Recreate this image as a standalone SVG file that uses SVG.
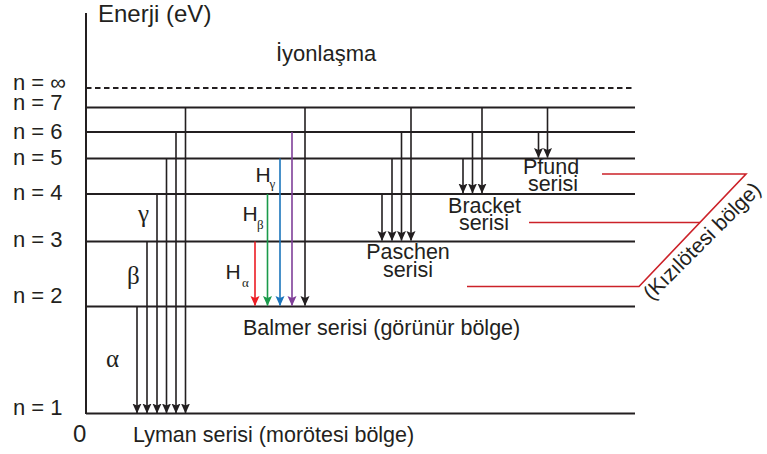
<svg xmlns="http://www.w3.org/2000/svg" width="767" height="454" viewBox="0 0 767 454">
<style>
.t{font-family:"Liberation Sans",Arial,sans-serif;font-size:21.5px;fill:#231f20}
.n{font-size:22px}
.g{font-family:"Liberation Serif","Times New Roman",serif;font-size:25px;fill:#231f20}
.gs{font-family:"Liberation Serif","Times New Roman",serif;font-size:13px;fill:#231f20}
.lv{stroke:#231f20;stroke-width:2;fill:none}
.ak{stroke:#231f20;stroke-width:1.6;fill:none;marker-end:url(#mk)}
.red{stroke:#cc2229;stroke-width:1.6;fill:none}
</style>
<defs>
<marker id="mk" viewBox="0 0 10 10" refX="9.5" refY="5" markerWidth="10" markerHeight="10" markerUnits="userSpaceOnUse" orient="auto"><path d="M0,0.5 L10,5 L0,9.5 L2,5 z" fill="#231f20"/></marker>
<marker id="mr" viewBox="0 0 10 10" refX="9.5" refY="5" markerWidth="10" markerHeight="10" markerUnits="userSpaceOnUse" orient="auto"><path d="M0,0.5 L10,5 L0,9.5 L2,5 z" fill="#ec1c24"/></marker>
<marker id="mg" viewBox="0 0 10 10" refX="9.5" refY="5" markerWidth="10" markerHeight="10" markerUnits="userSpaceOnUse" orient="auto"><path d="M0,0.5 L10,5 L0,9.5 L2,5 z" fill="#1a9a4a"/></marker>
<marker id="mb" viewBox="0 0 10 10" refX="9.5" refY="5" markerWidth="10" markerHeight="10" markerUnits="userSpaceOnUse" orient="auto"><path d="M0,0.5 L10,5 L0,9.5 L2,5 z" fill="#1b75bc"/></marker>
<marker id="mp" viewBox="0 0 10 10" refX="9.5" refY="5" markerWidth="10" markerHeight="10" markerUnits="userSpaceOnUse" orient="auto"><path d="M0,0.5 L10,5 L0,9.5 L2,5 z" fill="#7f3f98"/></marker>
</defs>

<g id="axis">
<line class="lv" x1="86" y1="13" x2="86" y2="414"/>
<text class="t" x="98" y="22" style="font-size:24px">Enerji (eV)</text>
<text class="t" x="73" y="442" style="font-size:24px">0</text>
</g>

<g id="levels">
<line class="lv" x1="86" y1="88" x2="635" y2="88" stroke-dasharray="5.5,3.5"/>
<line class="lv" x1="86" y1="107.5" x2="635" y2="107.5"/>
<line class="lv" x1="86" y1="132" x2="635" y2="132"/>
<line class="lv" x1="86" y1="158.5" x2="635" y2="158.5"/>
<line class="lv" x1="86" y1="194" x2="635" y2="194"/>
<line class="lv" x1="86" y1="241.5" x2="635" y2="241.5"/>
<line class="lv" x1="86" y1="306.5" x2="635" y2="306.5"/>
<line class="lv" x1="86" y1="413.5" x2="635" y2="413.5"/>
<text class="t n" x="13" y="90">n = ∞</text>
<text class="t n" x="13" y="110">n = 7</text>
<text class="t n" x="13" y="139">n = 6</text>
<text class="t n" x="13" y="165">n = 5</text>
<text class="t n" x="13" y="200">n = 4</text>
<text class="t n" x="13" y="247">n = 3</text>
<text class="t n" x="13" y="303">n = 2</text>
<text class="t n" x="13" y="415">n = 1</text>
<text class="t" x="276" y="61" style="font-size:22px">İyonlaşma</text>
</g>

<g id="connectors">
<!-- Lyman -->
<line class="ak" x1="137" y1="306.5" x2="137" y2="413"/>
<line class="ak" x1="147" y1="241.5" x2="147" y2="413"/>
<line class="ak" x1="157" y1="194" x2="157" y2="413"/>
<line class="ak" x1="166.5" y1="158.5" x2="166.5" y2="413"/>
<line class="ak" x1="176" y1="132" x2="176" y2="413"/>
<line class="ak" x1="185.5" y1="107.5" x2="185.5" y2="413"/>
<!-- Balmer -->
<line x1="255" y1="241.5" x2="255" y2="305.5" stroke="#ec1c24" stroke-width="1.6" marker-end="url(#mr)"/>
<line x1="267.5" y1="194" x2="267.5" y2="305.5" stroke="#1a9a4a" stroke-width="1.6" marker-end="url(#mg)"/>
<line x1="280" y1="158.5" x2="280" y2="305.5" stroke="#1b75bc" stroke-width="1.6" marker-end="url(#mb)"/>
<line x1="292" y1="132" x2="292" y2="305.5" stroke="#7f3f98" stroke-width="1.6" marker-end="url(#mp)"/>
<line class="ak" x1="305" y1="107.5" x2="305" y2="305.5"/>
<!-- Paschen -->
<line class="ak" x1="382" y1="194" x2="382" y2="240.5"/>
<line class="ak" x1="392" y1="158.5" x2="392" y2="240.5"/>
<line class="ak" x1="401.5" y1="132" x2="401.5" y2="240.5"/>
<line class="ak" x1="411" y1="107.5" x2="411" y2="240.5"/>
<!-- Bracket -->
<line class="ak" x1="463" y1="158.5" x2="463" y2="193"/>
<line class="ak" x1="472.5" y1="132" x2="472.5" y2="193"/>
<line class="ak" x1="482" y1="107.5" x2="482" y2="193"/>
<!-- Pfund -->
<line class="ak" x1="538.5" y1="132" x2="538.5" y2="157.5"/>
<line class="ak" x1="547.5" y1="107.5" x2="547.5" y2="157.5"/>
<!-- infrared brackets -->
<polyline class="red" points="602,174 746,174 639,286.5 467,286.5"/>
<line class="red" x1="529" y1="222.5" x2="700" y2="222.5"/>
</g>

<g id="lyman-labels">
<text class="g" x="138" y="222">γ</text>
<text class="g" x="127" y="284">β</text>
<text class="g" x="106" y="367">α</text>
<text class="t" x="133" y="442">Lyman serisi (morötesi bölge)</text>
</g>

<g id="balmer-labels">
<text class="t" x="255.5" y="182" style="font-size:21px">H</text><text class="gs" x="269.5" y="188">γ</text>
<text class="t" x="242.5" y="221" style="font-size:21px">H</text><text class="gs" x="257" y="229">β</text>
<text class="t" x="225.5" y="279" style="font-size:21px">H</text><text class="gs" x="242" y="287">α</text>
<text class="t" x="243" y="335">Balmer serisi (görünür bölge)</text>
</g>

<g id="paschen">
<text class="t" x="408" y="259" text-anchor="middle">Paschen</text>
<text class="t" x="408" y="277" text-anchor="middle">serisi</text>
</g>
<g id="bracket">
<text class="t" x="484.5" y="213" text-anchor="middle">Bracket</text>
<text class="t" x="484" y="230" text-anchor="middle">serisi</text>
</g>
<g id="pfund">
<text class="t" x="551" y="174" text-anchor="middle">Pfund</text>
<text class="t" x="553" y="191" text-anchor="middle">serisi</text>
</g>
<g id="infrared">
<text class="t" transform="translate(707,246) rotate(-45)" text-anchor="middle" style="font-size:21px">(Kızılötesi bölge)</text>
</g>
</svg>
